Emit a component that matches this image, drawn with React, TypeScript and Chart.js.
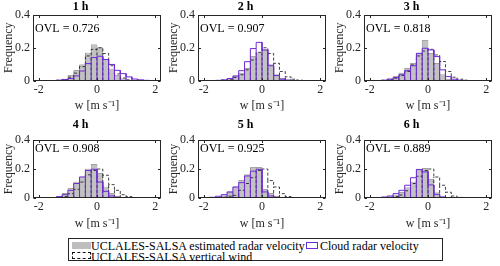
import React, { useEffect, useRef } from "react";
import { Chart, registerables } from "chart.js";

Chart.register(...registerables);

// ---------- data ----------
const binCenters = [-1.9, -1.7, -1.5, -1.3, -1.1, -0.9, -0.7, -0.5, -0.3, -0.1, 0.1, 0.3, 0.5, 0.7, 0.9, 1.1, 1.3, 1.5, 1.7, 1.9];
const binWidth = 0.2;
const xTicks = [-2, 0, 2];
const yTicks = [0, 0.2, 0.4];
const xRange = [-2.2, 2.2];
const yRange = [0, 0.4];

const panelTitles = ["1 h", "2 h", "3 h", "4 h", "5 h", "6 h"];
const ovlValues = ["0.726", "0.907", "0.818", "0.908", "0.925", "0.889"];

const seriesNames = [
  "UCLALES-SALSA estimated radar velocity",
  "Cloud radar velocity",
  "UCLALES-SALSA vertical wind",
];

// UCLALES-SALSA estimated radar velocity (gray bars)
const sim1 = [0, 0, 0, 0.002, 0.008, 0.03, 0.06, 0.095, 0.168, 0.218, 0.2, 0.13, 0.07, 0.03, 0.01, 0.003, 0, 0, 0, 0];
const sim2 = [0, 0, 0, 0.003, 0.01, 0.024, 0.045, 0.075, 0.146, 0.168, 0.182, 0.095, 0.035, 0.014, 0.004, 0.001, 0, 0, 0, 0];
const sim3 = [0, 0, 0.002, 0.01, 0.024, 0.045, 0.075, 0.105, 0.166, 0.244, 0.166, 0.105, 0.035, 0.008, 0.002, 0, 0, 0, 0, 0];
const sim4 = [0, 0, 0.002, 0.01, 0.03, 0.065, 0.11, 0.145, 0.2, 0.23, 0.17, 0.076, 0.03, 0.01, 0.003, 0, 0, 0, 0, 0];
const sim5 = [0, 0, 0.005, 0.015, 0.04, 0.075, 0.12, 0.16, 0.21, 0.21, 0.06, 0.03, 0.01, 0.002, 0, 0, 0, 0, 0, 0];
const sim6 = [0, 0, 0.003, 0.008, 0.02, 0.04, 0.07, 0.11, 0.2, 0.205, 0.13, 0.035, 0.008, 0, 0, 0, 0, 0, 0, 0];

// Cloud radar velocity (purple outline)
const obs1 = [0, 0, 0, 0.002, 0.005, 0.012, 0.028, 0.058, 0.103, 0.14, 0.148, 0.128, 0.098, 0.062, 0.042, 0.022, 0.009, 0.004, 0.001, 0];
const obs2 = [0, 0, 0.001, 0.004, 0.012, 0.028, 0.06, 0.115, 0.195, 0.233, 0.187, 0.09, 0.03, 0.008, 0.002, 0, 0, 0, 0, 0];
const obs3 = [0, 0, 0.002, 0.008, 0.018, 0.035, 0.06, 0.09, 0.166, 0.197, 0.187, 0.146, 0.065, 0.024, 0.008, 0.002, 0, 0, 0, 0];
const obs4 = [0, 0, 0.003, 0.009, 0.023, 0.053, 0.1, 0.145, 0.19, 0.198, 0.11, 0.046, 0.014, 0.005, 0.001, 0, 0, 0, 0, 0];
const obs5 = [0, 0.005, 0.012, 0.023, 0.042, 0.076, 0.106, 0.152, 0.185, 0.198, 0.042, 0.014, 0.005, 0.001, 0, 0, 0, 0, 0, 0];
const obs6 = [0, 0.003, 0.007, 0.014, 0.03, 0.053, 0.088, 0.14, 0.196, 0.18, 0.09, 0.025, 0.007, 0, 0, 0, 0, 0, 0, 0];

// UCLALES-SALSA vertical wind (dashed black outline)
const wind1 = [0, 0, 0, 0.001, 0.006, 0.02, 0.045, 0.085, 0.15, 0.19, 0.2, 0.165, 0.09, 0.04, 0.015, 0.004, 0.001, 0, 0, 0];
const wind2 = [0, 0, 0, 0.002, 0.008, 0.018, 0.035, 0.065, 0.125, 0.172, 0.2, 0.165, 0.105, 0.055, 0.022, 0.008, 0.002, 0, 0, 0];
const wind3 = [0, 0, 0.001, 0.005, 0.014, 0.03, 0.055, 0.095, 0.15, 0.18, 0.19, 0.156, 0.116, 0.055, 0.02, 0.008, 0.002, 0, 0, 0];
const wind4 = [0, 0, 0, 0.003, 0.01, 0.03, 0.06, 0.11, 0.16, 0.19, 0.2, 0.157, 0.092, 0.053, 0.023, 0.01, 0.003, 0, 0, 0];
const wind5 = [0, 0, 0.002, 0.006, 0.012, 0.018, 0.053, 0.1, 0.14, 0.19, 0.2, 0.12, 0.076, 0.03, 0.01, 0.003, 0, 0, 0, 0];
const wind6 = [0, 0, 0, 0.004, 0.01, 0.02, 0.05, 0.1, 0.15, 0.19, 0.2, 0.145, 0.088, 0.04, 0.014, 0.004, 0, 0, 0, 0];

const simSeries = [sim1, sim2, sim3, sim4, sim5, sim6];
const obsSeries = [obs1, obs2, obs3, obs4, obs5, obs6];
const windSeries = [wind1, wind2, wind3, wind4, wind5, wind6];

// ---------- style ----------
const FONT = "'Liberation Serif', 'Times New Roman', Times, serif";
const AXIS = "#262626";
const PURPLE = "#6E2BD8";
const GRAY_FILL = "#c2c2c2";

// outline of a histogram (outer envelope + inner bin edges), built from the bin data
function histOutline(vals: number[]) {
  const pts: { x: number; y: number | null }[] = [];
  let first = -1;
  let last = -1;
  vals.forEach((v, i) => {
    if (v > 0) {
      if (first < 0) first = i;
      last = i;
    }
  });
  if (first < 0) return pts;
  const half = binWidth / 2;
  pts.push({ x: binCenters[first] - half, y: 0 });
  for (let i = first; i <= last; i++) {
    pts.push({ x: binCenters[i] - half, y: vals[i] });
    pts.push({ x: binCenters[i] + half, y: vals[i] });
  }
  pts.push({ x: binCenters[last] + half, y: 0 });
  for (let i = first; i < last; i++) {
    const e = binCenters[i] + half;
    pts.push({ x: e, y: null });
    pts.push({ x: e, y: 0 });
    pts.push({ x: e, y: Math.min(vals[i], vals[i + 1]) });
  }
  return pts;
}

const framePlugin = {
  id: "frame",
  afterDatasetsDraw(chart: any, _args: any, opts: any) {
    const { ctx, chartArea: a, scales } = chart;
    ctx.save();
    ctx.strokeStyle = AXIS;
    ctx.lineWidth = 1;
    const l = Math.round(a.left) + 0.5;
    const r = Math.round(a.right) - 0.5;
    const t = Math.round(a.top) + 0.5;
    const b = Math.round(a.bottom) - 0.5;
    ctx.strokeRect(l, t, r - l, b - t);
    const tl = 2.5;
    ctx.beginPath();
    for (const v of xTicks) {
      const px = Math.round(scales.x.getPixelForValue(v)) + 0.5;
      ctx.moveTo(px, b);
      ctx.lineTo(px, b - tl);
      ctx.moveTo(px, t);
      ctx.lineTo(px, t + tl);
    }
    for (const v of yTicks) {
      const py = Math.round(scales.y.getPixelForValue(v)) + 0.5;
      ctx.moveTo(l, py);
      ctx.lineTo(l + tl, py);
      ctx.moveTo(r, py);
      ctx.lineTo(r - tl, py);
    }
    ctx.stroke();
    ctx.fillStyle = "#000";
    ctx.font = `12px ${FONT}`;
    ctx.textBaseline = "middle";
    ctx.textAlign = "left";
    ctx.fillText(`OVL = ${opts.ovl}`, a.left + 2, a.top + opts.ovlDy);
    ctx.restore();
  },
};

const colLefts = [33, 198, 364];
const plotW = 128;
const rowCfg = [
  { top: 0, titlePadBottom: 0.6, ovlDy: 14, xH: 33.5 },
  { top: 118, titlePadBottom: 7.6, ovlDy: 8.5, xH: 34 },
];
const CANVAS_W = 33 + plotW + 4;
const CANVAS_H = 114;

function Panel({ idx }: { idx: number }) {
  const ref = useRef<HTMLCanvasElement>(null);
  const row = rowCfg[Math.floor(idx / 3)];
  const left = colLefts[idx % 3] - 33;
  useEffect(() => {
    if (!ref.current) return;
    const sim = simSeries[idx];
    const chart = new Chart(ref.current, {
      type: "bar",
      data: {
        datasets: [
          {
            type: "bar",
            label: seriesNames[0],
            data: binCenters.map((c, i) => ({ x: c, y: sim[i] })).filter((p) => p.y > 0),
            backgroundColor: GRAY_FILL,
            borderColor: "#4a4a4a",
            borderWidth: 0.35,
            barPercentage: 1,
            categoryPercentage: 1,
            order: 2,
          } as any,
          {
            type: "line",
            label: seriesNames[1],
            data: histOutline(obsSeries[idx]) as any,
            borderColor: PURPLE,
            borderWidth: 1,
            pointRadius: 0,
            tension: 0,
            fill: false,
            spanGaps: false,
            order: 0,
          } as any,
          {
            type: "line",
            label: seriesNames[2],
            data: histOutline(windSeries[idx]) as any,
            borderColor: "#111111",
            borderWidth: 0.8,
            borderDash: [3, 2],
            pointRadius: 0,
            tension: 0,
            fill: false,
            spanGaps: false,
            order: 1,
          } as any,
        ],
      },
      options: {
        animation: false,
        responsive: false,
        maintainAspectRatio: false,
        devicePixelRatio: 1,
        layout: { padding: { left: 0, right: 4, top: 0, bottom: 0 } },
        plugins: {
          legend: { display: false },
          tooltip: { enabled: false },
          title: {
            display: true,
            text: panelTitles[idx],
            color: "#000",
            font: { family: FONT, size: 12, weight: "bold", lineHeight: 1.2 },
            padding: { top: 0, bottom: row.titlePadBottom },
          },
          frame: { ovl: ovlValues[idx], ovlDy: row.ovlDy },
        } as any,
        scales: {
          x: {
            type: "linear",
            min: xRange[0],
            max: xRange[1],
            offset: false,
            grid: { display: false, drawTicks: false, offset: false },
            border: { display: false },
            afterBuildTicks: (s: any) => {
              s.ticks = xTicks.map((v) => ({ value: v }));
            },
            afterFit: (s: any) => {
              s.height = row.xH;
            },
            ticks: {
              color: AXIS,
              font: { family: FONT, size: 12 },
              padding: 2,
              maxRotation: 0,
              autoSkip: false,
            },
            title: {
              display: true,
              text: "w [m s\u207B\u00B9]",
              color: AXIS,
              font: { family: FONT, size: 12 },
              padding: { top: 0, bottom: 1 },
            },
          },
          y: {
            type: "linear",
            min: yRange[0],
            max: yRange[1],
            grid: { display: false, drawTicks: false },
            border: { display: false },
            afterBuildTicks: (s: any) => {
              s.ticks = yTicks.map((v) => ({ value: v }));
            },
            afterFit: (s: any) => {
              s.width = 33;
            },
            ticks: {
              color: AXIS,
              font: { family: FONT, size: 12 },
              padding: 3,
              autoSkip: false,
            },
            title: {
              display: true,
              text: "Frequency",
              color: AXIS,
              font: { family: FONT, size: 12 },
              padding: { top: 2, bottom: 0 },
            },
          },
        },
      },
      plugins: [framePlugin as any],
    });
    return () => chart.destroy();
  }, [idx]);
  return (
    <canvas
      ref={ref}
      width={CANVAS_W}
      height={CANVAS_H}
      style={{ position: "absolute", left, top: row.top, width: CANVAS_W, height: CANVAS_H }}
    />
  );
}

function Legend() {
  const text: React.CSSProperties = {
    position: "absolute",
    fontFamily: FONT,
    fontSize: 12,
    lineHeight: "12px",
    color: "#000",
    whiteSpace: "nowrap",
  };
  return (
    <div
      style={{
        position: "absolute",
        left: 68,
        top: 238,
        width: 375,
        height: 23,
        border: `1px solid ${AXIS}`,
        boxSizing: "border-box",
        background: "#fff",
      }}
    >
      <div style={{ position: "absolute", left: 3, top: 3, width: 19, height: 7, background: "#bebebe" }} />
      <div style={{ ...text, left: 22, top: 1 }}>{seriesNames[0]}</div>
      <div
        style={{
          position: "absolute",
          left: 237,
          top: 3,
          width: 12,
          height: 7,
          border: `1px solid ${PURPLE}`,
          boxSizing: "border-box",
        }}
      />
      <div style={{ ...text, left: 251, top: 1 }}>{seriesNames[1]}</div>
      <div
        style={{
          position: "absolute",
          left: 3,
          top: 13,
          width: 19,
          height: 7,
          border: "1px dashed #111",
          boxSizing: "border-box",
        }}
      />
      <div style={{ ...text, left: 22, top: 11.5 }}>{seriesNames[2]}</div>
    </div>
  );
}

export default function App() {
  return (
    <div style={{ position: "fixed", left: 0, top: 0, width: 500, height: 266, background: "#fff", overflow: "hidden" }}>
      {[0, 1, 2, 3, 4, 5].map((i) => (
        <Panel key={i} idx={i} />
      ))}
      <Legend />
    </div>
  );
}
